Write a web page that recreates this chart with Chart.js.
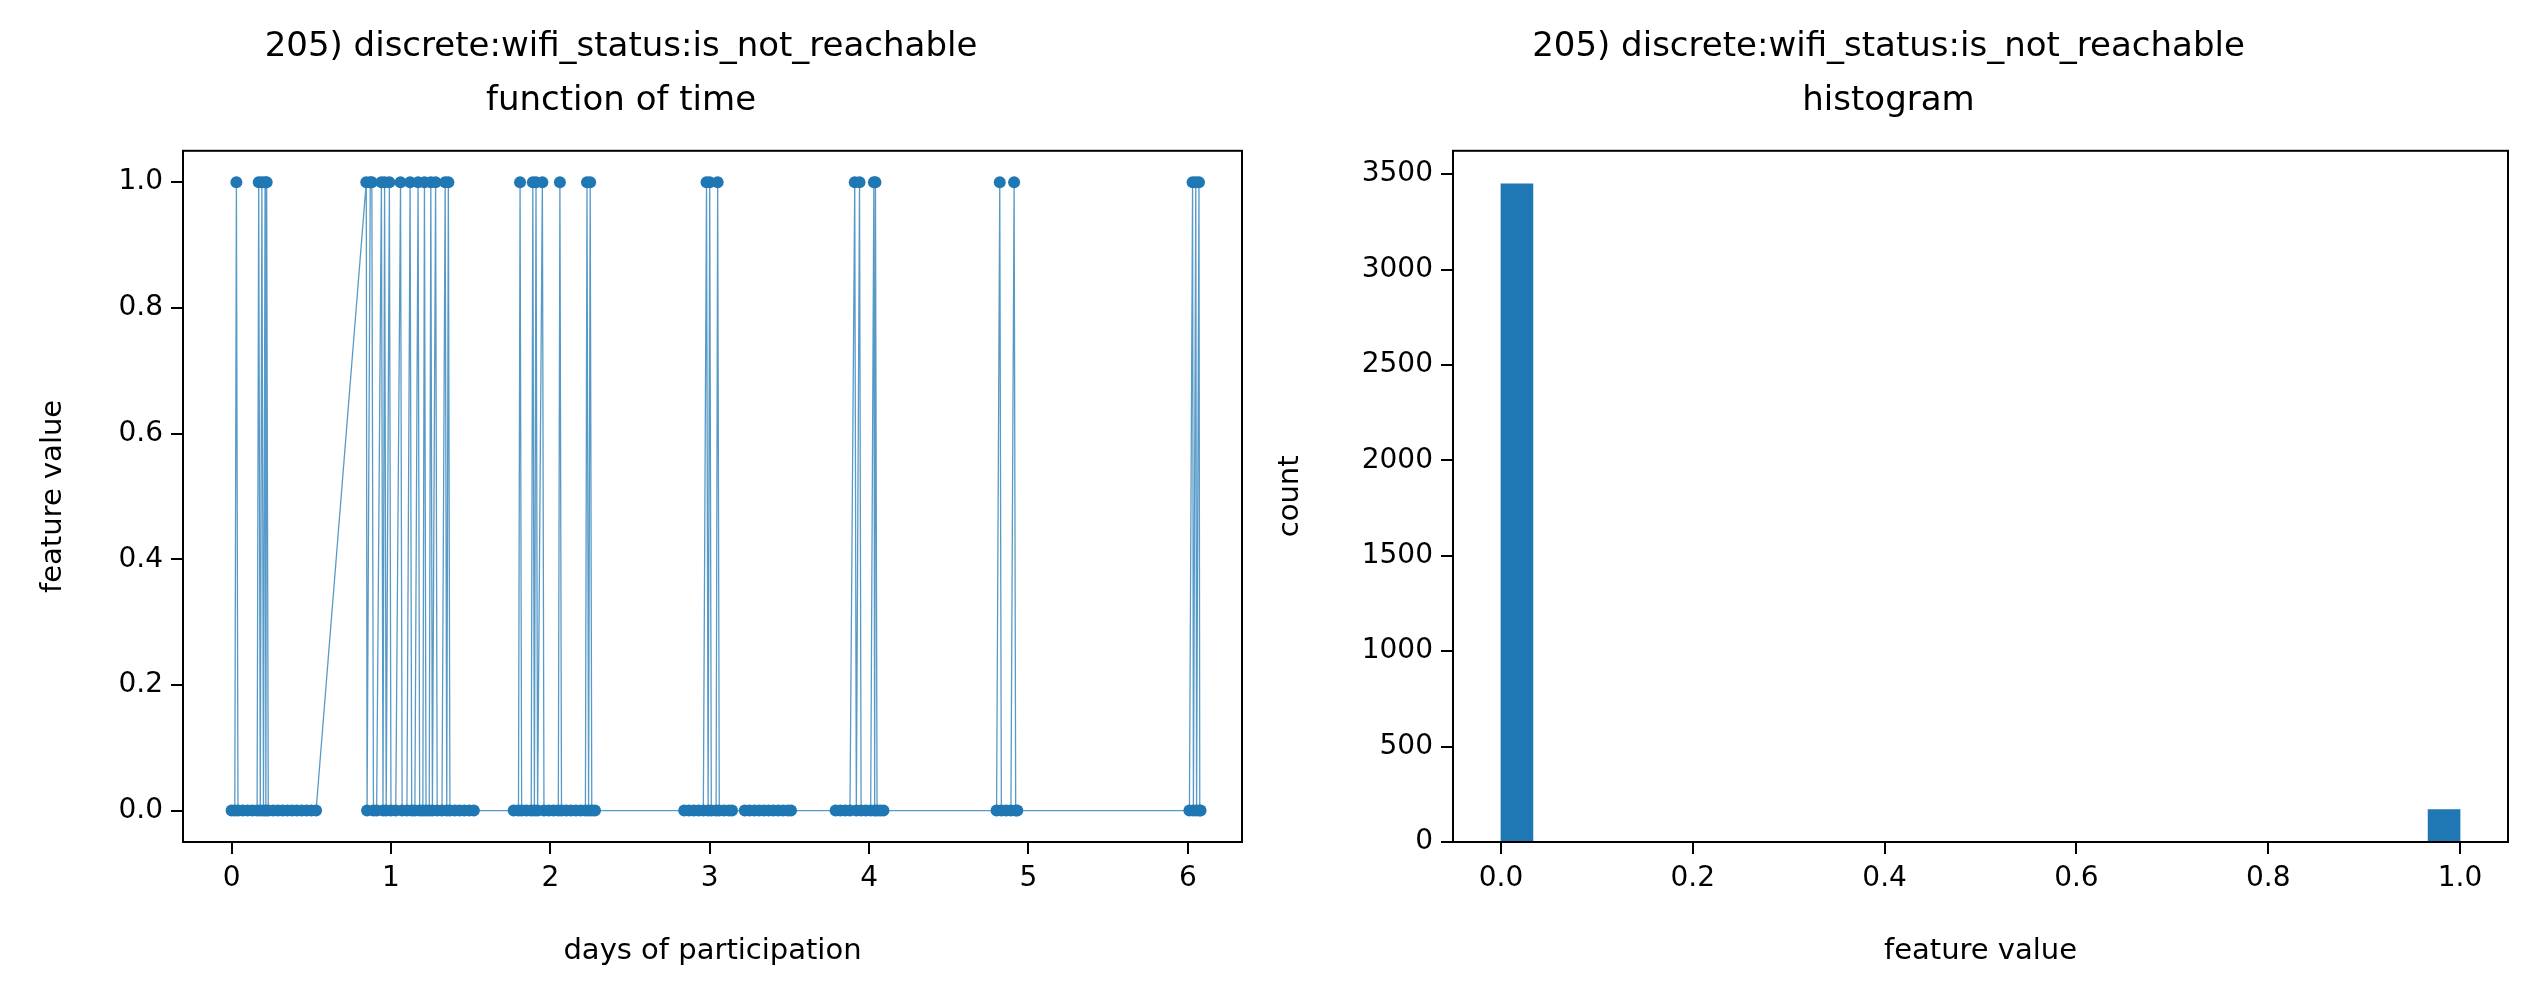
<!DOCTYPE html>
<html><head><meta charset="utf-8">
<script src="https://cdn.jsdelivr.net/npm/chart.js@4.4.0/dist/chart.umd.min.js"></script>
<style>
html,body{margin:0;padding:0;background:#fff;overflow:hidden}
#a{position:absolute;left:0;top:0}
#b{position:absolute;left:1269px;top:0}
</style></head><body>
<canvas id="a" width="1268" height="1003"></canvas>
<canvas id="b" width="1270" height="1003"></canvas>
<script>
const seriesDays = [0.00,0.02,0.03,0.04,0.07,0.10,0.13,0.16,0.17,0.18,0.19,0.20,0.21,0.215,0.22,0.23,0.26,0.29,0.32,0.35,0.38,0.41,0.44,0.47,0.50,0.53,
0.845,0.85,0.87,0.88,0.89,0.91,0.94,0.95,0.96,0.97,0.99,1.00,1.03,1.06,1.07,1.10,1.12,1.13,1.15,1.17,1.18,1.20,1.21,1.22,1.24,1.25,1.26,1.28,1.29,1.32,1.34,1.35,1.36,1.37,1.40,1.43,1.46,1.49,1.52,
1.77,1.80,1.81,1.82,1.85,1.88,1.89,1.90,1.91,1.92,1.95,1.96,1.99,2.02,2.05,2.06,2.07,2.10,2.13,2.16,2.19,2.22,2.23,2.24,2.25,2.26,2.28,
2.84,2.87,2.90,2.93,2.96,2.98,2.99,3.00,3.01,3.04,3.05,3.06,3.09,3.12,3.14,
3.22,3.25,3.28,3.31,3.34,3.37,3.40,3.43,3.46,3.49,3.51,
3.79,3.82,3.85,3.88,3.91,3.92,3.94,3.95,3.98,4.01,4.03,4.035,4.04,4.05,4.07,4.09,
4.80,4.82,4.83,4.86,4.89,4.91,4.92,4.93,
6.01,6.03,6.035,6.05,6.055,6.07,6.075,6.08];
const seriesValues = [0,0,1,0,0,0,0,0,1,0,1,0,1,0,1,0,0,0,0,0,0,0,0,0,0,0,
1,0,1,1,0,0,1,0,1,0,1,0,0,1,0,0,1,0,0,1,0,0,1,0,0,1,0,1,0,0,1,0,1,0,0,0,0,0,0,
0,0,1,0,0,0,1,0,1,0,1,0,0,0,0,1,0,0,0,0,0,0,1,0,1,0,0,
0,0,0,0,0,1,0,1,0,0,1,0,0,0,0,
0,0,0,0,0,0,0,0,0,0,0,
0,0,0,0,1,0,1,0,0,0,1,0,1,0,0,0,
0,1,0,0,0,1,0,0,
0,1,0,1,0,1,0,0];
const histCenters = [];
const histCounts = [3450,0,0,0,0,0,0,0,0,0,0,0,0,0,0,0,0,0,0,0,0,0,0,0,0,0,0,0,0,170];
for(let i=0;i<30;i++) histCenters.push((i+0.5)/30);
const leftXTicks=[0,1,2,3,4,5,6];
const leftYTicks=[0,0.2,0.4,0.6,0.8,1.0];
const histXTicks=[0,0.2,0.4,0.6,0.8,1.0];
const histYTicks=[0,500,1000,1500,2000,2500,3000,3500];

const BLUE='#1f77b4';
const FONT='DejaVu Sans';
Chart.defaults.font.family=FONT;
Chart.defaults.color='#000';
const frame={id:'frame',afterDraw(c){const a=c.chartArea,x=c.ctx;x.save();x.strokeStyle='#000';x.lineWidth=2;x.strokeRect(a.left,a.top,a.right-a.left,a.bottom-a.top);x.restore();}};
function axis(ticks,min,max,fmt,title,isX,fit,tpad){
 return {type:'linear',min,max,offset:false,
  afterBuildTicks:s=>{s.ticks=ticks.map(v=>({value:v}));},
  afterFit:s=>{if(isX)s.height=fit;else s.width=fit;},
  ticks:{font:{size:28},color:'#000',padding:8,maxRotation:0,autoSkip:false,callback:fmt},
  grid:{drawOnChartArea:false,offset:false,color:'#000',tickColor:'#000',tickLength:12,lineWidth:2},
  border:{display:true,color:'#000',width:2},
  title:{display:true,text:title,font:{size:29},color:'#000',padding:isX?{top:0,bottom:tpad}:{top:tpad,bottom:0}}};
}
function titleCfg(t){return {display:true,text:t,font:{size:34,weight:'normal',lineHeight:1.6},color:'#000',padding:{top:20,bottom:22}};}

new Chart(document.getElementById('a'),{type:'line',
 data:{datasets:[{data:seriesDays.map((d,i)=>({x:d,y:seriesValues[i]})),borderColor:'rgba(31,119,180,0.75)',borderWidth:1.3,pointRadius:6,pointBackgroundColor:BLUE,pointBorderWidth:0,tension:0}]},
 options:{responsive:false,animation:false,layout:{padding:{right:26,left:0,top:0,bottom:0}},
  plugins:{legend:{display:false},tooltip:{enabled:false},title:titleCfg(['205) discrete:wifi_status:is_not_reachable','function of time'])},
  scales:{x:axis(leftXTicks,-0.305,6.34,v=>String(v),'days of participation',true,161,34),
          y:axis(leftYTicks,-0.05,1.05,v=>v.toFixed(1),'feature value',false,183,36)}},
 plugins:[frame]});

new Chart(document.getElementById('b'),{type:'bar',
 data:{datasets:[{data:histCenters.map((c,i)=>({x:c,y:histCounts[i]})),backgroundColor:BLUE,barPercentage:1,categoryPercentage:1,borderWidth:0}]},
 options:{responsive:false,animation:false,layout:{padding:{right:31,left:0,top:0,bottom:0}},
  plugins:{legend:{display:false},tooltip:{enabled:false},title:titleCfg(['205) discrete:wifi_status:is_not_reachable','histogram'])},
  scales:{x:axis(histXTicks,-0.05,1.05,v=>v.toFixed(1),'feature value',true,161,34),
          y:axis(histYTicks,0,3622.5,v=>String(v),'count',false,184,4)}},
 plugins:[frame]});
</script></body></html>
